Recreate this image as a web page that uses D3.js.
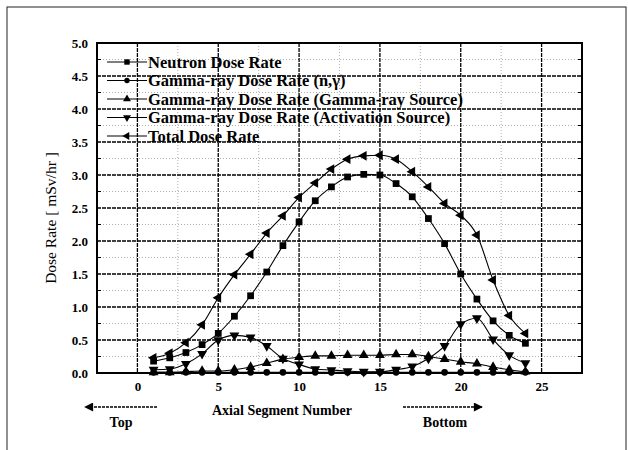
<!DOCTYPE html>
<html>
<head>
<meta charset="utf-8">
<script src="https://cdn.jsdelivr.net/npm/d3@7"></script>
<style>
  body { margin: 0; background: #fff; }
  text { font-family: "Liberation Serif", "DejaVu Serif", serif; fill: #000; }
</style>
</head>
<body>
<div id="chart"></div>
<script>
// data
var segments = [1, 2, 3, 4, 5, 6, 7, 8, 9, 10, 11, 12, 13, 14, 15, 16, 17, 18, 19, 20, 21, 22, 23, 24];
var neutron = [0.18, 0.23, 0.31, 0.43, 0.60, 0.86, 1.17, 1.53, 1.93, 2.29, 2.61, 2.82, 2.97, 3.01, 3.00, 2.87, 2.67, 2.34, 1.96, 1.50, 1.12, 0.79, 0.57, 0.45];
var gammaNG = [0.01, 0.01, 0.01, 0.01, 0.01, 0.01, 0.01, 0.01, 0.01, 0.01, 0.01, 0.01, 0.01, 0.01, 0.01, 0.01, 0.01, 0.01, 0.01, 0.01, 0.01, 0.01, 0.01, 0.01];
var gammaSource = [0.01, 0.01, 0.02, 0.03, 0.03, 0.05, 0.09, 0.15, 0.21, 0.24, 0.26, 0.26, 0.27, 0.27, 0.27, 0.28, 0.28, 0.25, 0.21, 0.17, 0.14, 0.09, 0.05, 0.02];
var gammaActivation = [0.05, 0.06, 0.14, 0.29, 0.50, 0.57, 0.54, 0.41, 0.22, 0.13, 0.06, 0.045, 0.03, 0.02, 0.02, 0.05, 0.10, 0.22, 0.41, 0.74, 0.83, 0.51, 0.27, 0.15];
var total = [0.23, 0.30, 0.46, 0.73, 1.14, 1.49, 1.80, 2.12, 2.38, 2.66, 2.88, 3.09, 3.24, 3.29, 3.30, 3.24, 3.05, 2.82, 2.57, 2.39, 2.09, 1.41, 0.87, 0.60];

var seriesNames = ["Neutron Dose Rate", "Gamma-ray Dose Rate (n,\u03b3)", "Gamma-ray Dose Rate (Gamma-ray Source)", "Gamma-ray Dose Rate (Activation Source)", "Total Dose Rate"];
var seriesValues = [neutron, gammaNG, gammaSource, gammaActivation, total];
var seriesMarkers = ["square", "circle", "up", "down", "left"];

var xTicks = [0, 5, 10, 15, 20, 25];
var yTicks = [0, 0.5, 1, 1.5, 2, 2.5, 3, 3.5, 4, 4.5, 5];

// 0.size
var W = 628, H = 450;
var margin = {top: 43, right: 46, bottom: 77, left: 97};
var w = W - margin.left - margin.right;
var h = H - margin.top - margin.bottom;

var svgBG = d3.select("#chart").append("svg").attr("width", W).attr("height", H);

// outer frame of the scanned page
svgBG.append("rect")
    .attr("x", 7).attr("y", 7).attr("width", 619).attr("height", 460)
    .attr("fill", "none").attr("stroke", "#222").attr("stroke-width", 1);

var svg = svgBG.append("g").attr("transform", "translate(" + margin.left + "," + margin.top + ")");

var xScale = d3.scaleLinear().domain([-2.5, 27.5]).range([0, w]);
var yScale = d3.scaleLinear().domain([0, 5]).range([h, 0]);

// minor grid
var gMinor = svg.append("g");
d3.range(0.25, 5, 0.5).forEach(function (v) {
    gMinor.append("line").attr("x1", 0).attr("x2", w).attr("y1", yScale(v)).attr("y2", yScale(v));
});
[2.5, 7.5, 12.5, 17.5, 22.5].forEach(function (v) {
    gMinor.append("line").attr("y1", 0).attr("y2", h).attr("x1", xScale(v)).attr("x2", xScale(v));
});
gMinor.selectAll("line").attr("stroke", "#999").attr("stroke-width", 0.8).attr("stroke-dasharray", "1,2");

// major grid
var gMajor = svg.append("g");
yTicks.forEach(function (v) {
    gMajor.append("line").attr("x1", 0).attr("x2", w).attr("y1", yScale(v)).attr("y2", yScale(v));
});
xTicks.forEach(function (v) {
    gMajor.append("line").attr("y1", 0).attr("y2", h).attr("x1", xScale(v)).attr("x2", xScale(v));
});
gMajor.selectAll("line").attr("stroke", "#000").attr("stroke-width", 1.3).attr("stroke-dasharray", "4,1");

// axes
var xAxis = svg.append("g").attr("transform", "translate(0," + h + ")")
    .call(d3.axisBottom(xScale).tickValues(xTicks).tickSize(0).tickPadding(9).tickFormat(d3.format("d")));
var yAxis = svg.append("g")
    .call(d3.axisLeft(yScale).tickValues(yTicks).tickSize(0).tickPadding(9).tickFormat(d3.format(".1f")));
[xAxis, yAxis].forEach(function (a) {
    a.select(".domain").remove();
    a.selectAll("text").attr("font-family", "Liberation Serif").attr("font-size", 13).attr("font-weight", "bold");
});

// inward minor ticks on the left/right
d3.range(0.25, 5, 0.5).forEach(function (v) {
    svg.append("line").attr("x1", 0).attr("x2", 4).attr("y1", yScale(v)).attr("y2", yScale(v)).attr("stroke", "#000");
    svg.append("line").attr("x1", w - 4).attr("x2", w).attr("y1", yScale(v)).attr("y2", yScale(v)).attr("stroke", "#000");
});

// plot frame
svg.append("rect").attr("width", w).attr("height", h)
    .attr("fill", "none").attr("stroke", "#000").attr("stroke-width", 2);

// markers
function marker(sel, type, s) {
    if (type == "square") {
        sel.append("rect").attr("x", -s * 0.45).attr("y", -s * 0.45).attr("width", s * 0.9).attr("height", s * 0.9);
    } else if (type == "circle") {
        sel.append("circle").attr("r", s * 0.45);
    } else {
        var rot = {up: 0, down: 180, left: -90}[type];
        sel.append("path").attr("d", d3.symbol(d3.symbolTriangle, s * s * 0.75)())
            .attr("transform", "rotate(" + rot + ")");
    }
}

var line = d3.line()
    .x(function (d) { return xScale(d[0]); })
    .y(function (d) { return yScale(d[1]); })
    .curve(d3.curveMonotoneX);

seriesValues.forEach(function (vals, i) {
    var pts = segments.map(function (s, j) { return [s, vals[j]]; });
    svg.append("path").datum(pts).attr("d", line)
        .attr("fill", "none").attr("stroke", "#000").attr("stroke-width", 1.1);
    svg.append("g").selectAll("g").data(pts).enter().append("g")
        .attr("transform", function (d) { return "translate(" + xScale(d[0]) + "," + yScale(d[1]) + ")"; })
        .attr("fill", "#000")
        .each(function () { marker(d3.select(this), seriesMarkers[i], 7.5); });
});

// legend
var legend = svg.append("g").attr("transform", "translate(10,19)");
seriesNames.forEach(function (name, i) {
    var g = legend.append("g").attr("transform", "translate(0," + i * 18.5 + ")");
    g.append("line").attr("x1", 0).attr("x2", 40).attr("stroke", "#000").attr("stroke-width", 1.2);
    var m = g.append("g").attr("transform", "translate(20,0)").attr("fill", "#000");
    marker(m, seriesMarkers[i], 6);
    g.append("text").attr("x", 41).attr("y", 0).attr("dy", "0.35em")
        .attr("font-size", 16.5).attr("font-weight", "bold").text(name);
});

// axis titles
svgBG.append("text")
    .attr("transform", "translate(56," + (margin.top + h / 2 + 10) + ") rotate(-90)")
    .attr("text-anchor", "middle").attr("font-size", 15.5)
    .text("Dose Rate [ mSv/hr ]");

svgBG.append("text")
    .attr("x", 282).attr("y", 415).attr("text-anchor", "middle")
    .attr("font-size", 14).attr("font-weight", "bold")
    .text("Axial Segment Number");

svgBG.append("text").attr("x", 121).attr("y", 427).attr("text-anchor", "middle")
    .attr("font-size", 14).attr("font-weight", "bold").text("Top");
svgBG.append("text").attr("x", 445).attr("y", 427).attr("text-anchor", "middle")
    .attr("font-size", 14).attr("font-weight", "bold").text("Bottom");

// direction arrows
var defs = svgBG.append("defs");
defs.append("marker").attr("id", "head").attr("viewBox", "0 0 10 10")
    .attr("refX", 9).attr("refY", 5).attr("markerWidth", 12).attr("markerHeight", 9)
    .attr("markerUnits", "userSpaceOnUse").attr("orient", "auto")
    .append("path").attr("d", "M0,0L10,5L0,10Z").attr("fill", "#000");

svgBG.append("line").attr("x1", 157).attr("x2", 85).attr("y1", 407).attr("y2", 407)
    .attr("stroke", "#000").attr("stroke-width", 1.5).attr("stroke-dasharray", "3,1")
    .attr("marker-end", "url(#head)");
svgBG.append("line").attr("x1", 403).attr("x2", 482).attr("y1", 407).attr("y2", 407)
    .attr("stroke", "#000").attr("stroke-width", 1.5).attr("stroke-dasharray", "3,1")
    .attr("marker-end", "url(#head)");
</script>
</body>
</html>
